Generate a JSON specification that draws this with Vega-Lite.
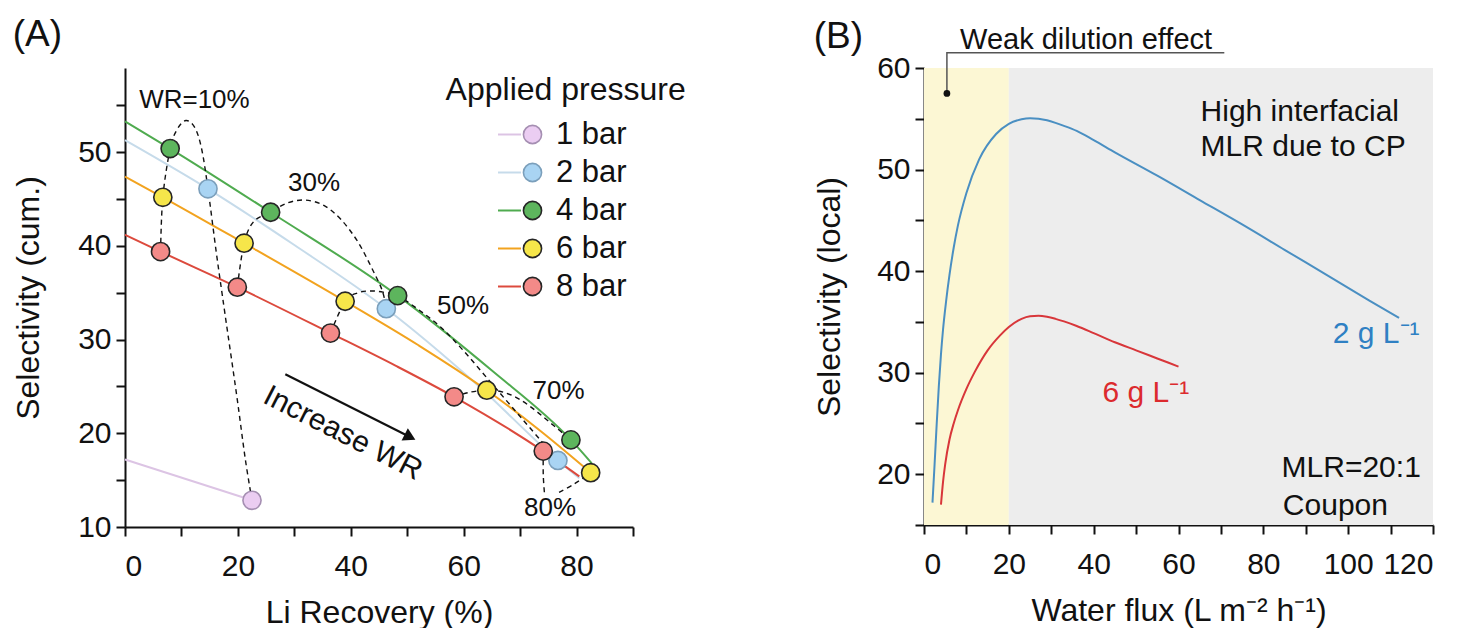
{
  "$schema": "https://vega.github.io/schema/vega-lite/v6.json",
  "padding": {"left": 12, "top": 16, "right": 5, "bottom": 0},
  "background": "white",
  "spacing": 127,
  "config": {
    "font": "Liberation Sans",
    "view": {"stroke": null},
    "axis": {"domainColor": "#111", "domainWidth": 2, "tickColor": "#111", "tickWidth": 2, "tickSize": 9, "labelFontSize": 30, "labelColor": "#111", "titleFontSize": 32, "titleFontWeight": "normal", "titleColor": "#111", "grid": false, "labelPadding": 5, "labelFont": "Liberation Sans", "titleFont": "Liberation Sans"},
    "title": {"fontSize": 37, "fontWeight": "normal", "anchor": "start", "color": "#111", "font": "Liberation Sans"},
    "text": {"font": "Liberation Sans", "color": "#111"}
  },
  "resolve": {"scale": {"stroke": "independent", "fill": "independent", "color": "independent"}, "legend": {"stroke": "independent", "fill": "independent"}},
  "datasets": {
    "linesA": [
      {"p": "1 bar", "x": 0, "y": 17.2}, {"p": "1 bar", "x": 22.5, "y": 12.85},
      {"p": "2 bar", "x": 0, "y": 51.3}, {"p": "2 bar", "x": 14.7, "y": 46.1}, {"p": "2 bar", "x": 30, "y": 40.1}, {"p": "2 bar", "x": 46.3, "y": 33.3}, {"p": "2 bar", "x": 62, "y": 25.4}, {"p": "2 bar", "x": 76.7, "y": 17.1}, {"p": "2 bar", "x": 80.5, "y": 15.2},
      {"p": "4 bar", "x": 0, "y": 53.3}, {"p": "4 bar", "x": 8, "y": 50.4}, {"p": "4 bar", "x": 25.8, "y": 43.6}, {"p": "4 bar", "x": 48.3, "y": 34.7}, {"p": "4 bar", "x": 65, "y": 26.7}, {"p": "4 bar", "x": 79, "y": 19.3}, {"p": "4 bar", "x": 82.7, "y": 16.8},
      {"p": "6 bar", "x": 0, "y": 47.4}, {"p": "6 bar", "x": 6.7, "y": 45.2}, {"p": "6 bar", "x": 21.1, "y": 40.3}, {"p": "6 bar", "x": 39, "y": 34.1}, {"p": "6 bar", "x": 52, "y": 29.4}, {"p": "6 bar", "x": 64.1, "y": 24.6}, {"p": "6 bar", "x": 73.5, "y": 20.3}, {"p": "6 bar", "x": 82.5, "y": 15.8},
      {"p": "8 bar", "x": 0, "y": 41.2}, {"p": "8 bar", "x": 6.3, "y": 39.4}, {"p": "8 bar", "x": 19.9, "y": 35.6}, {"p": "8 bar", "x": 36.4, "y": 30.7}, {"p": "8 bar", "x": 48, "y": 27.2}, {"p": "8 bar", "x": 58.3, "y": 23.9}, {"p": "8 bar", "x": 74.1, "y": 18.1}, {"p": "8 bar", "x": 80.5, "y": 15.4}
    ],
    "pointsA": [
      {"p": "1 bar", "x": 22.5, "y": 12.85},
      {"p": "2 bar", "x": 14.7, "y": 46.1}, {"p": "2 bar", "x": 46.3, "y": 33.3}, {"p": "2 bar", "x": 76.7, "y": 17.1},
      {"p": "4 bar", "x": 8, "y": 50.4}, {"p": "4 bar", "x": 25.8, "y": 43.6}, {"p": "4 bar", "x": 48.3, "y": 34.7}, {"p": "4 bar", "x": 79, "y": 19.3},
      {"p": "6 bar", "x": 6.7, "y": 45.2}, {"p": "6 bar", "x": 21.1, "y": 40.3}, {"p": "6 bar", "x": 39, "y": 34.1}, {"p": "6 bar", "x": 64.1, "y": 24.6}, {"p": "6 bar", "x": 82.5, "y": 15.8},
      {"p": "8 bar", "x": 6.3, "y": 39.4}, {"p": "8 bar", "x": 19.9, "y": 35.6}, {"p": "8 bar", "x": 36.4, "y": 30.7}, {"p": "8 bar", "x": 58.3, "y": 23.9}, {"p": "8 bar", "x": 74.1, "y": 18.1}
    ],
    "dashA": [
      {"g": "10", "i": 1, "x": 6.3, "y": 39.4}, {"g": "10", "i": 2, "x": 6.7, "y": 45.2}, {"g": "10", "i": 3, "x": 8, "y": 50.4}, {"g": "10", "i": 4, "x": 9.2, "y": 52.4}, {"g": "10", "i": 5, "x": 10.8, "y": 53.4}, {"g": "10", "i": 6, "x": 12.4, "y": 52.6}, {"g": "10", "i": 7, "x": 13.6, "y": 50.3}, {"g": "10", "i": 8, "x": 14.7, "y": 46.1}, {"g": "10", "i": 9, "x": 16.2, "y": 39.2}, {"g": "10", "i": 10, "x": 17.7, "y": 32.8}, {"g": "10", "i": 11, "x": 19.8, "y": 24}, {"g": "10", "i": 12, "x": 21.3, "y": 17.3}, {"g": "10", "i": 13, "x": 22.5, "y": 12.85},
      {"g": "30", "i": 1, "x": 19.9, "y": 35.6}, {"g": "30", "i": 2, "x": 21.1, "y": 40.3}, {"g": "30", "i": 3, "x": 22.8, "y": 42.6}, {"g": "30", "i": 4, "x": 25.8, "y": 43.6}, {"g": "30", "i": 5, "x": 28.8, "y": 44.6}, {"g": "30", "i": 6, "x": 32, "y": 44.9}, {"g": "30", "i": 7, "x": 35.3, "y": 44.3}, {"g": "30", "i": 8, "x": 38.3, "y": 42.8}, {"g": "30", "i": 9, "x": 41.3, "y": 40.4}, {"g": "30", "i": 10, "x": 44, "y": 37.3}, {"g": "30", "i": 11, "x": 45.6, "y": 35.2}, {"g": "30", "i": 12, "x": 46.3, "y": 33.3},
      {"g": "50", "i": 1, "x": 36.4, "y": 30.7}, {"g": "50", "i": 2, "x": 39, "y": 34.1}, {"g": "50", "i": 3, "x": 41.3, "y": 35}, {"g": "50", "i": 4, "x": 43.8, "y": 35.2}, {"g": "50", "i": 5, "x": 46.3, "y": 35}, {"g": "50", "i": 6, "x": 48.3, "y": 34.7}, {"g": "50", "i": 7, "x": 52, "y": 33.2}, {"g": "50", "i": 8, "x": 56, "y": 31.3}, {"g": "50", "i": 9, "x": 60, "y": 28.8}, {"g": "50", "i": 10, "x": 64, "y": 26}, {"g": "50", "i": 11, "x": 68, "y": 23.2}, {"g": "50", "i": 12, "x": 72, "y": 20.4}, {"g": "50", "i": 13, "x": 76.7, "y": 17.1},
      {"g": "70", "i": 1, "x": 58.3, "y": 23.9}, {"g": "70", "i": 2, "x": 61.2, "y": 24.4}, {"g": "70", "i": 3, "x": 64.1, "y": 24.6}, {"g": "70", "i": 4, "x": 67, "y": 24.4}, {"g": "70", "i": 5, "x": 70, "y": 23.6}, {"g": "70", "i": 6, "x": 73, "y": 22.3}, {"g": "70", "i": 7, "x": 76, "y": 20.8}, {"g": "70", "i": 8, "x": 79, "y": 19.3},
      {"g": "80a", "i": 1, "x": 74.1, "y": 18.1}, {"g": "80a", "i": 2, "x": 74.1, "y": 15.6}, {"g": "80a", "i": 3, "x": 74.3, "y": 13.7},
      {"g": "80b", "i": 1, "x": 76.9, "y": 13.7}, {"g": "80b", "i": 2, "x": 79.6, "y": 14.6}, {"g": "80b", "i": 3, "x": 82.5, "y": 15.8}
    ],
    "pctA": [
      {"x": 12.3, "y": 55.6, "t": "WR=10%"},
      {"x": 33.5, "y": 46.7, "t": "30%"},
      {"x": 59.9, "y": 33.6, "t": "50%"},
      {"x": 76.8, "y": 24.5, "t": "70%"},
      {"x": 75.3, "y": 12.0, "t": "80%"}
    ],
    "legTitleA": [{"x": 56.8, "y": 56.7, "t": "Applied pressure"}],
    "incA": [{"x": 38.6, "y": 20.0, "t": "Increase WR"}],
    "arrowA": [{"x": 28.4, "y": 26.3}, {"x": 50.5, "y": 19.6}],
    "headA": [{"x": 50.5, "y": 19.6}],
    "zonesB": [
      {"zone": "weak", "x": 0, "xe": 20, "y": 15, "ye": 60},
      {"zone": "high", "x": 20, "xe": 120, "y": 15, "ye": 60}
    ],
    "curvesB": [
      {"c": "2 g L-1", "x": 2, "y": 17.2}, {"c": "2 g L-1", "x": 2.5, "y": 21}, {"c": "2 g L-1", "x": 3, "y": 25}, {"c": "2 g L-1", "x": 3.5, "y": 28.7}, {"c": "2 g L-1", "x": 4, "y": 31.8}, {"c": "2 g L-1", "x": 4.5, "y": 34.3}, {"c": "2 g L-1", "x": 5.2, "y": 37}, {"c": "2 g L-1", "x": 6, "y": 39.6}, {"c": "2 g L-1", "x": 7, "y": 42.3}, {"c": "2 g L-1", "x": 8, "y": 44.5}, {"c": "2 g L-1", "x": 10, "y": 47.7}, {"c": "2 g L-1", "x": 13, "y": 51}, {"c": "2 g L-1", "x": 17, "y": 53.5}, {"c": "2 g L-1", "x": 20, "y": 54.5}, {"c": "2 g L-1", "x": 23, "y": 54.95}, {"c": "2 g L-1", "x": 25, "y": 55.05}, {"c": "2 g L-1", "x": 27, "y": 55.0}, {"c": "2 g L-1", "x": 29, "y": 54.85}, {"c": "2 g L-1", "x": 31, "y": 54.6}, {"c": "2 g L-1", "x": 33, "y": 54.3}, {"c": "2 g L-1", "x": 36, "y": 53.8}, {"c": "2 g L-1", "x": 40, "y": 52.9}, {"c": "2 g L-1", "x": 45, "y": 51.7}, {"c": "2 g L-1", "x": 55, "y": 49.4}, {"c": "2 g L-1", "x": 65, "y": 47}, {"c": "2 g L-1", "x": 75, "y": 44.6}, {"c": "2 g L-1", "x": 85, "y": 42.1}, {"c": "2 g L-1", "x": 95, "y": 39.6}, {"c": "2 g L-1", "x": 105, "y": 37.1}, {"c": "2 g L-1", "x": 112, "y": 35.4},
      {"c": "6 g L-1", "x": 4, "y": 17}, {"c": "6 g L-1", "x": 4.5, "y": 19.3}, {"c": "6 g L-1", "x": 5, "y": 21}, {"c": "6 g L-1", "x": 6, "y": 23.4}, {"c": "6 g L-1", "x": 7, "y": 25}, {"c": "6 g L-1", "x": 8, "y": 26.3}, {"c": "6 g L-1", "x": 10, "y": 28.4}, {"c": "6 g L-1", "x": 12, "y": 30.1}, {"c": "6 g L-1", "x": 15, "y": 32.2}, {"c": "6 g L-1", "x": 18, "y": 33.7}, {"c": "6 g L-1", "x": 20, "y": 34.5}, {"c": "6 g L-1", "x": 23, "y": 35.3}, {"c": "6 g L-1", "x": 25, "y": 35.55}, {"c": "6 g L-1", "x": 27, "y": 35.6}, {"c": "6 g L-1", "x": 29, "y": 35.5}, {"c": "6 g L-1", "x": 31, "y": 35.3}, {"c": "6 g L-1", "x": 33, "y": 35.05}, {"c": "6 g L-1", "x": 36, "y": 34.6}, {"c": "6 g L-1", "x": 40, "y": 33.9}, {"c": "6 g L-1", "x": 45, "y": 33}, {"c": "6 g L-1", "x": 50, "y": 32.2}, {"c": "6 g L-1", "x": 55, "y": 31.4}, {"c": "6 g L-1", "x": 60, "y": 30.6}
    ],
    "curveLabelsB": [
      {"c": "2 g L-1", "x": 106.6, "y": 33.8, "t": "2 g L⁻¹"},
      {"c": "6 g L-1", "x": 52.3, "y": 28.0, "t": "6 g L⁻¹"}
    ],
    "notesB": [
      {"x": 65.2, "y": 55.7, "t": "High interfacial"},
      {"x": 65.2, "y": 52.2, "t": "MLR due to CP"},
      {"x": 84.3, "y": 20.6, "t": "MLR=20:1"},
      {"x": 84.6, "y": 16.9, "t": "Coupon"}
    ],
    "weakB": [{"x": 8.5, "y": 62.8, "t": "Weak dilution effect"}],
    "leaderB": [{"x": 70.8, "y": 61.5, "i": 1}, {"x": 5.4, "y": 61.5, "i": 2}, {"x": 5.4, "y": 57.5, "i": 3}],
    "dotB": [{"x": 5.4, "y": 57.5}]
  },
  "hconcat": [
    {
      "width": 508,
      "height": 459,
      "title": {"text": "(A)", "offset": 14},
      "layer": [
        {
          "data": {"name": "linesA"},
          "mark": {"type": "line", "strokeWidth": 2, "interpolate": "monotone"},
          "encoding": {
            "x": {"field": "x", "type": "quantitative", "scale": {"domain": [0, 90], "nice": false, "zero": false},
                  "axis": {"title": "Li Recovery (%)", "values": [0, 10, 20, 30, 40, 50, 60, 70, 80, 90], "labelExpr": "datum.value % 20 === 0 ? datum.label : ''", "labelPadding": 15, "titlePadding": 16}},
            "y": {"field": "y", "type": "quantitative", "scale": {"domain": [10, 59], "nice": false, "zero": false},
                  "axis": {"title": "Selectivity (cum.)", "values": [10, 15, 20, 25, 30, 35, 40, 45, 50, 55], "labelExpr": "datum.value % 10 === 0 ? datum.label : ''", "titlePadding": 32}},
            "stroke": {"field": "p", "type": "nominal",
                       "scale": {"range": ["#dcc4e4", "#c6dbea", "#4fab4f", "#f2a31f", "#dc4a3d"]},
                       "legend": {"title": null, "orient": "none", "legendX": 369, "legendY": 51, "padding": 0, "symbolType": "stroke", "symbolSize": 529, "symbolStrokeWidth": 2, "labelFontSize": 31, "labelExpr": "''", "rowPadding": 6, "labelOffset": 8}}
          }
        },
        {
          "data": {"name": "dashA"},
          "mark": {"type": "line", "interpolate": "cardinal", "strokeDash": [5, 4], "strokeWidth": 1.4, "color": "#111"},
          "encoding": {
            "x": {"field": "x", "type": "quantitative"},
            "y": {"field": "y", "type": "quantitative"},
            "detail": {"field": "g", "type": "nominal"},
            "order": {"field": "i", "type": "quantitative"}
          }
        },
        {
          "data": {"name": "pointsA"},
          "mark": {"type": "point", "shape": "circle", "filled": true, "size": 330, "strokeWidth": 1.6, "opacity": 1},
          "encoding": {
            "x": {"field": "x", "type": "quantitative"},
            "y": {"field": "y", "type": "quantitative"},
            "fill": {"field": "p", "type": "nominal",
                     "scale": {"domain": ["1 bar", "2 bar", "4 bar", "6 bar", "8 bar"], "range": ["#ebcdf2", "#a9d4f3", "#5db55d", "#f6e64a", "#f38a88"]},
                     "legend": {"title": null, "orient": "none", "legendX": 392, "legendY": 51, "padding": 0, "symbolType": "circle", "symbolSize": 330, "symbolStrokeWidth": 1.6, "symbolStrokeColor": "#262626", "symbolOpacity": 1, "labelFontSize": 31, "labelColor": "#111", "labelOffset": 8, "rowPadding": 6,
                                "encode": {"symbols": {"update": {"stroke": {"signal": "datum.label === '1 bar' ? '#a58fb2' : datum.label === '2 bar' ? '#7b9fbb' : '#262626'"}}}}}},
            "stroke": {"condition": [{"test": "datum.p === '1 bar'", "value": "#a58fb2"}, {"test": "datum.p === '2 bar'", "value": "#7b9fbb"}], "value": "#262626"}
          }
        },
        {
          "data": {"name": "pctA"},
          "mark": {"type": "text", "fontSize": 26, "align": "center", "baseline": "middle"},
          "encoding": {"x": {"field": "x", "type": "quantitative"}, "y": {"field": "y", "type": "quantitative"}, "text": {"field": "t"}}
        },
        {
          "data": {"name": "legTitleA"},
          "mark": {"type": "text", "fontSize": 32, "align": "left", "baseline": "middle"},
          "encoding": {"x": {"field": "x", "type": "quantitative"}, "y": {"field": "y", "type": "quantitative"}, "text": {"field": "t"}}
        },
        {
          "data": {"name": "incA"},
          "mark": {"type": "text", "fontSize": 30, "align": "center", "baseline": "middle", "angle": 27},
          "encoding": {"x": {"field": "x", "type": "quantitative"}, "y": {"field": "y", "type": "quantitative"}, "text": {"field": "t"}}
        },
        {
          "data": {"name": "arrowA"},
          "mark": {"type": "line", "color": "#111", "strokeWidth": 2.2},
          "encoding": {"x": {"field": "x", "type": "quantitative"}, "y": {"field": "y", "type": "quantitative"}}
        },
        {
          "data": {"name": "headA"},
          "mark": {"type": "point", "shape": "triangle-right", "angle": 27, "size": 190, "filled": true, "color": "#111", "opacity": 1},
          "encoding": {"x": {"field": "x", "type": "quantitative"}, "y": {"field": "y", "type": "quantitative"}}
        }
      ]
    },
    {
      "width": 509,
      "height": 457,
      "title": {"text": "(B)", "offset": -30},
      "layer": [
        {
          "data": {"name": "zonesB"},
          "mark": {"type": "rect"},
          "encoding": {
            "x": {"field": "x", "type": "quantitative", "scale": {"domain": [0, 120], "nice": false, "zero": false},
                  "axis": {"title": "Water flux (L m⁻² h⁻¹)", "values": [0, 10, 20, 30, 40, 50, 60, 70, 80, 90, 100, 110, 120], "labelExpr": "datum.value % 20 === 0 ? datum.label : ''", "labelPadding": 15, "titlePadding": 16}},
            "x2": {"field": "xe"},
            "y": {"field": "y", "type": "quantitative", "scale": {"domain": [15, 60], "nice": false, "zero": false},
                  "axis": {"title": "Selectivity (local)", "values": [15, 20, 25, 30, 35, 40, 45, 50, 55, 60], "labelExpr": "datum.value % 10 === 0 ? datum.label : ''", "titlePadding": 30}},
            "y2": {"field": "ye"},
            "fill": {"field": "zone", "type": "nominal", "scale": {"domain": ["weak", "high"], "range": ["#fcf7d4", "#ededed"]}, "legend": null}
          }
        },
        {
          "data": {"name": "curvesB"},
          "mark": {"type": "line", "strokeWidth": 2, "interpolate": "monotone"},
          "encoding": {
            "x": {"field": "x", "type": "quantitative"},
            "y": {"field": "y", "type": "quantitative"},
            "stroke": {"field": "c", "type": "nominal", "scale": {"domain": ["2 g L-1", "6 g L-1"], "range": ["#4a8fc2", "#d8363a"]}, "legend": null}
          }
        },
        {
          "data": {"name": "leaderB"},
          "mark": {"type": "line", "color": "#555", "strokeWidth": 1.5},
          "encoding": {"x": {"field": "x", "type": "quantitative"}, "y": {"field": "y", "type": "quantitative"}, "order": {"field": "i", "type": "quantitative"}}
        },
        {
          "data": {"name": "dotB"},
          "mark": {"type": "point", "shape": "circle", "filled": true, "size": 45, "color": "#111", "opacity": 1},
          "encoding": {"x": {"field": "x", "type": "quantitative"}, "y": {"field": "y", "type": "quantitative"}}
        },
        {
          "data": {"name": "weakB"},
          "mark": {"type": "text", "fontSize": 29, "align": "left", "baseline": "middle"},
          "encoding": {"x": {"field": "x", "type": "quantitative"}, "y": {"field": "y", "type": "quantitative"}, "text": {"field": "t"}}
        },
        {
          "data": {"name": "notesB"},
          "mark": {"type": "text", "fontSize": 30, "align": "left", "baseline": "middle"},
          "encoding": {"x": {"field": "x", "type": "quantitative"}, "y": {"field": "y", "type": "quantitative"}, "text": {"field": "t"}}
        },
        {
          "data": {"name": "curveLabelsB"},
          "mark": {"type": "text", "fontSize": 30, "align": "center", "baseline": "middle", "fontWeight": 500},
          "encoding": {"x": {"field": "x", "type": "quantitative"}, "y": {"field": "y", "type": "quantitative"}, "text": {"field": "t"},
                       "fill": {"condition": {"test": "datum.c === '2 g L-1'", "value": "#2f80c3"}, "value": "#dc2a2e"}}
        }
      ]
    }
  ]
}
